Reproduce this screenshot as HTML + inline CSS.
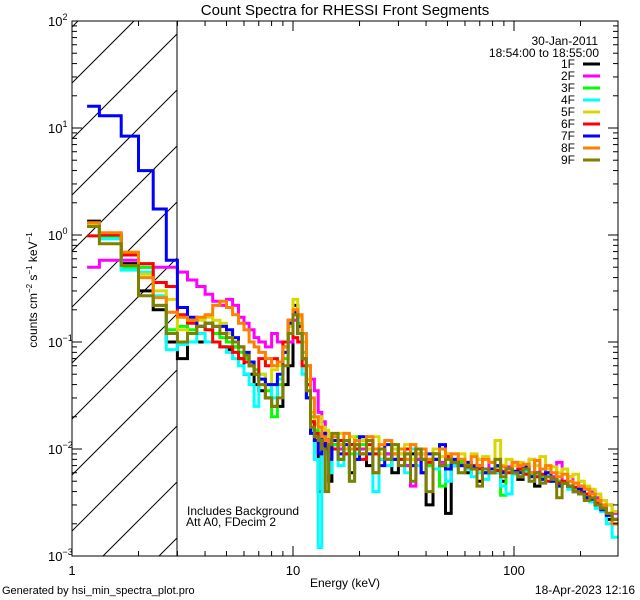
<!DOCTYPE html>
<html><head><meta charset="utf-8"><style>
html,body{margin:0;padding:0;background:#fff;width:640px;height:600px;overflow:hidden;}
svg{display:block;font-family:"Liberation Sans",sans-serif;}
</style></head><body>
<svg id="chart" width="640" height="600" viewBox="0 0 640 600">
<rect width="640" height="600" fill="#fff"/>
<defs><clipPath id="pc"><rect x="72" y="21" width="546" height="535"/></clipPath></defs>
<text x="345" y="15" text-anchor="middle" font-size="15">Count Spectra for RHESSI Front Segments</text>
<g id="hatch"></g>
<line x1="177" y1="21" x2="177" y2="556" stroke="#000" stroke-width="1"/>
<g id="series" clip-path="url(#pc)"></g>
<g id="axes"></g>
<text x="598" y="45" text-anchor="end" font-size="12">30-Jan-2011</text>
<text x="599" y="57" text-anchor="end" font-size="12">18:54:00 to 18:55:00</text>
<g id="legend"></g>
<text x="187" y="515" font-size="12">Includes Background</text>
<text x="186" y="526" font-size="12">Att A0, FDecim 2</text>
<text x="345" y="587" text-anchor="middle" font-size="12">Energy (keV)</text>
<text transform="translate(37,290) rotate(-90)" text-anchor="middle" font-size="12">counts cm<tspan font-size="8" dy="-5">−2</tspan><tspan dy="5"> s</tspan><tspan font-size="8" dy="-5">−1</tspan><tspan dy="5"> keV</tspan><tspan font-size="8" dy="-5">−1</tspan></text>
<text x="2" y="594" font-size="11">Generated by hsi_min_spectra_plot.pro</text>
<text x="635" y="594" text-anchor="end" font-size="12">18-Apr-2023 12:16</text>
</svg>
<script>
const edges=[1.17,1.33,1.67,2,2.33,2.67,3,3.33,3.67,4,4.33,4.67,5,5.33,5.67,6,6.33,6.67,7,7.5,8,8.5,9,9.5,10,10.5,11,11.5,12,12.5,13,13.5,14,14.5,15,
16,17,18,19,20,21.5,23,24.5,26,28,30,32,34,36,38,40,43,46,49,52,56,60,64,68,72,77,82,87,92,98,104,110,117,124,131,139,147,156,165,175,185,196,208,220,233,247,262,278,295];
const seriesNames=["1F","2F","3F","4F","5F","6F","7F","8F","9F"];
const s1F=[1.35,1.0,0.54,0.3,0.2,0.1,0.07,0.1,0.1,0.1,0.1,0.09,0.085,0.09,0.07,0.05,0.05,0.04,0.035,0.03,0.025,0.025,0.04,0.06,0.22,0.14,0.07,0.03,0.018,0.012,0.004,0.011,0.012,0.005,
0.011,0.008,0.012,0.006,0.01,0.009,0.007,0.01,0.008,0.009,
0.006,0.008,0.007,0.009,0.008,0.006,0.003,0.008,0.007,0.0025,
0.007,0.0075,0.006,0.0065,0.005,0.006,0.0065,0.0068,0.005,0.0065,
0.006,0.0052,0.006,0.0058,0.0045,0.0055,0.006,0.0052,0.005,0.0048,
0.0045,0.004,0.0038,0.0036,0.0033,0.003,0.0028,0.0022,0.002];
const s2F=[0.5,0.58,0.58,0.5,0.5,0.5,0.45,0.38,0.33,0.28,0.24,0.22,0.25,0.22,0.17,0.15,0.13,0.11,0.1,0.09,0.12,0.1,0.09,0.1,0.16,0.12,0.1,0.06,0.045,0.035,0.022,0.018,0.014,0.012,
0.012,0.01,0.009,0.011,0.008,0.01,0.009,0.006,0.01,0.009,
0.008,0.009,0.007,0.0045,0.008,0.009,0.007,0.008,0.0075,0.009,
0.007,0.008,0.0065,0.007,0.008,0.0065,0.0075,0.006,0.007,0.0068,
0.0075,0.007,0.0065,0.008,0.006,0.0065,0.006,0.0055,0.0075,0.005,
0.0055,0.0048,0.0045,0.0042,0.004,0.0035,0.0033,0.003,0.0025];
const s3F=[1.25,0.97,0.5,0.5,0.22,0.13,0.14,0.13,0.14,0.13,0.12,0.11,0.1,0.09,0.08,0.07,0.06,0.055,0.045,0.035,0.02,0.04,0.07,0.12,0.2,0.15,0.08,0.04,0.02,0.015,0.013,0.012,0.011,0.012,
0.011,0.012,0.01,0.009,0.013,0.011,0.01,0.009,0.01,0.008,
0.011,0.009,0.008,0.01,0.009,0.008,0.007,0.009,0.0045,0.007,
0.008,0.0075,0.007,0.0065,0.007,0.006,0.0065,0.0068,0.0037,0.0065,
0.006,0.0063,0.006,0.0058,0.006,0.0055,0.006,0.0052,0.005,0.0048,
0.0045,0.0042,0.004,0.0036,0.0033,0.003,0.0028,0.0025,0.0022];
const s4F=[1.2,0.92,0.47,0.45,0.27,0.085,0.095,0.1,0.12,0.1,0.1,0.09,0.08,0.07,0.06,0.05,0.04,0.025,0.05,0.04,0.03,0.045,0.08,0.14,0.18,0.12,0.05,0.03,0.015,0.008,0.0012,0.01,0.009,0.006,
0.01,0.007,0.011,0.005,0.009,0.008,0.01,0.004,0.008,0.007,
0.009,0.008,0.006,0.01,0.007,0.006,0.008,0.0065,0.007,0.005,
0.007,0.006,0.0065,0.0055,0.006,0.0052,0.006,0.006,0.0045,0.0038,
0.0058,0.0055,0.0062,0.005,0.0055,0.0048,0.006,0.005,0.0045,0.0048,
0.0042,0.004,0.0038,0.0034,0.0032,0.0028,0.0026,0.002,0.0015];
const s5F=[1.25,1.0,0.69,0.43,0.3,0.25,0.13,0.12,0.16,0.17,0.16,0.15,0.12,0.1,0.09,0.08,0.065,0.05,0.05,0.04,0.055,0.06,0.09,0.14,0.25,0.17,0.1,0.045,0.022,0.017,0.02,0.016,0.015,0.013,
0.013,0.014,0.01,0.013,0.011,0.012,0.01,0.013,0.009,0.011,
0.01,0.009,0.011,0.008,0.01,0.009,0.008,0.01,0.0085,0.009,
0.008,0.009,0.0075,0.009,0.008,0.0085,0.0075,0.012,0.007,0.008,
0.007,0.0075,0.0072,0.008,0.007,0.0085,0.0065,0.0068,0.006,0.0065,
0.0055,0.0058,0.005,0.0045,0.0042,0.0038,0.0033,0.003,0.0026];
const s6F=[0.98,1.0,0.65,0.54,0.36,0.33,0.18,0.15,0.14,0.13,0.1,0.09,0.09,0.08,0.07,0.065,0.06,0.05,0.07,0.06,0.07,0.065,0.1,0.16,0.11,0.1,0.06,0.04,0.018,0.014,0.012,0.011,0.01,0.012,
0.01,0.012,0.009,0.011,0.01,0.008,0.011,0.009,0.01,0.008,
0.009,0.008,0.01,0.007,0.009,0.008,0.0075,0.009,0.007,0.0085,
0.0075,0.007,0.0068,0.007,0.0065,0.0065,0.006,0.0063,0.0062,0.006,
0.006,0.0065,0.0058,0.006,0.0055,0.0058,0.005,0.0052,0.0048,0.005,
0.0045,0.0044,0.004,0.0038,0.0034,0.0031,0.0028,0.0024,0.0022];
const s7F=[16,13,8.4,4.0,1.75,0.58,0.21,0.17,0.14,0.15,0.14,0.14,0.13,0.11,0.09,0.08,0.065,0.05,0.045,0.04,0.04,0.05,0.08,0.15,0.19,0.12,0.07,0.03,0.014,0.012,0.009,0.014,0.01,0.008,
0.012,0.009,0.011,0.01,0.008,0.013,0.009,0.01,0.007,0.011,
0.008,0.01,0.009,0.007,0.01,0.006,0.009,0.008,0.011,0.0065,
0.008,0.007,0.0075,0.0068,0.007,0.006,0.0065,0.007,0.006,0.0065,
0.0062,0.006,0.0068,0.0055,0.006,0.0052,0.006,0.005,0.0045,0.0048,
0.0045,0.004,0.0042,0.0035,0.0034,0.003,0.0027,0.0024,0.0022];
const s8F=[1.3,1.05,0.69,0.4,0.26,0.19,0.17,0.16,0.17,0.18,0.22,0.24,0.21,0.18,0.15,0.13,0.1,0.09,0.08,0.07,0.06,0.065,0.09,0.16,0.2,0.18,0.12,0.06,0.03,0.02,0.016,0.013,0.012,0.011,
0.013,0.011,0.014,0.01,0.012,0.009,0.013,0.01,0.011,0.012,
0.009,0.01,0.008,0.011,0.009,0.01,0.008,0.009,0.01,0.008,
0.009,0.008,0.007,0.0085,0.007,0.008,0.0075,0.008,0.0068,0.0065,
0.0075,0.007,0.0072,0.006,0.0078,0.0065,0.007,0.006,0.0055,0.0058,
0.005,0.0048,0.0045,0.0042,0.0038,0.0033,0.003,0.0025,0.002];
const s9F=[1.2,0.83,0.52,0.27,0.22,0.12,0.1,0.12,0.14,0.15,0.14,0.12,0.11,0.1,0.09,0.075,0.06,0.05,0.04,0.03,0.025,0.03,0.06,0.12,0.18,0.12,0.07,0.035,0.016,0.013,0.012,0.01,0.004,0.011,
0.014,0.008,0.012,0.005,0.011,0.009,0.012,0.006,0.01,0.008,
0.011,0.007,0.009,0.005,0.01,0.008,0.004,0.009,0.007,0.008,
0.0075,0.006,0.007,0.0065,0.0045,0.0065,0.006,0.008,0.0055,0.0065,
0.006,0.0055,0.0065,0.005,0.006,0.0048,0.0055,0.0052,0.0035,0.0048,
0.0045,0.004,0.0038,0.0033,0.0035,0.003,0.0028,0.0025,0.0022];
const xTickLabels=["1","10","100"];
const yTickExps=["2","1","0","−1","−2","−3"];

const NS="http://www.w3.org/2000/svg";
const X0=72,X1=618,Y0=21,Y1=556;
const xDec=221, yDec=107;
function xs(e){return X0+xDec*Math.log10(e);}
function ys(v){return Y1-yDec*(Math.log10(v)+3);}
function mk(tag,attrs,parent){const el=document.createElementNS(NS,tag);for(const k in attrs)el.setAttribute(k,attrs[k]);parent.appendChild(el);return el;}

// hatch lines clipped manually to [72,177]x[21,556]; line: y = c - (x-72)
const hatch=document.getElementById('hatch');
const HX1=177;
for(let k=-3;k<12;k++){
  const c=83+56*k;
  let xa=X0, ya=c;
  if(ya>Y1){xa=X0+(ya-Y1); ya=Y1;}
  let xb=HX1, yb=c-(HX1-X0);
  if(yb<Y0){xb=X0+(c-Y0); yb=Y0;}
  if(xa>=xb||xa>HX1||xb<X0) continue;
  const ln=mk('line',{x1:xa,y1:ya,x2:xb,y2:yb,stroke:'#000','stroke-width':1},hatch);
  
  
}

const colors=["#000000","#ff00ff","#00ff00","#00ffff","#d8d800","#ff0000","#0000ff","#ff8000","#808000"];
const data=[s1F,s2F,s3F,s4F,s5F,s6F,s7F,s8F,s9F];
const sg=document.getElementById('series');
function yc(v){return Math.min(Y1,Math.max(Y0,ys(v)));}
data.forEach((vals,i)=>{
  const n=Math.min(vals.length,edges.length-1);
  let d="M"+xs(edges[0]).toFixed(1)+","+yc(vals[0]).toFixed(1)+" H"+xs(edges[1]).toFixed(1);
  for(let j=1;j<n;j++){d+=" V"+yc(vals[j]).toFixed(1)+" H"+Math.min(X1,xs(edges[j+1])).toFixed(1);}
  const p=mk('path',{d:d,fill:'none',stroke:colors[i],'stroke-width':3,'stroke-linejoin':'miter'},sg);
  
  
});

const ax=document.getElementById('axes');
const fr=mk('rect',{x:X0,y:Y0,width:X1-X0,height:Y1-Y0,fill:'none',stroke:'#000','stroke-width':1},ax);


for(let dec=0;dec<3;dec++){
  for(let m=1;m<10;m++){
    const e=Math.pow(10,dec)*m; if(e>295)break;
    const x=xs(e), L=(m===1)?10:5;
    const t1=mk('line',{x1:x,y1:Y1,x2:x,y2:Y1-L,stroke:'#000'},ax);
    
    
    const t2=mk('line',{x1:x,y1:Y0,x2:x,y2:Y0+L,stroke:'#000'},ax);
    
    
  }
}
xTickLabels.forEach((lab,i)=>{
  const t=mk('text',{x:xs(Math.pow(10,i)),y:575,'text-anchor':'middle','font-size':13},ax);
  t.textContent=lab;
  
  
});
for(let p=-3;p<2;p++){
  for(let m=1;m<10;m++){
    const v=Math.pow(10,p)*m; const y=ys(v), L=(m===1)?10:5;
    const a=mk('line',{x1:X0,y1:y,x2:X0+L,y2:y,stroke:'#000'},ax);
    
    
    const b=mk('line',{x1:X1,y1:y,x2:X1-L,y2:y,stroke:'#000'},ax);
    
    
  }
}
yTickExps.forEach((ex,i)=>{
  const y=ys(Math.pow(10,2-i));
  const t=mk('text',{x:48,y:y+5,'font-size':13},ax);
  t.textContent="10";
  
  
  const s=mk('tspan',{'font-size':9,dy:-6},t);
  s.textContent=ex;
});

const lg=document.getElementById('legend');
seriesNames.forEach((nm,i)=>{
  const y=68+12*i;
  const t=mk('text',{x:575,y:y,'text-anchor':'end','font-size':12},lg);
  t.textContent=nm;
  
  
  const l=mk('line',{x1:583,y1:y-4,x2:600,y2:y-4,stroke:colors[i],'stroke-width':3},lg);
  
  
});
</script>
</body></html>
